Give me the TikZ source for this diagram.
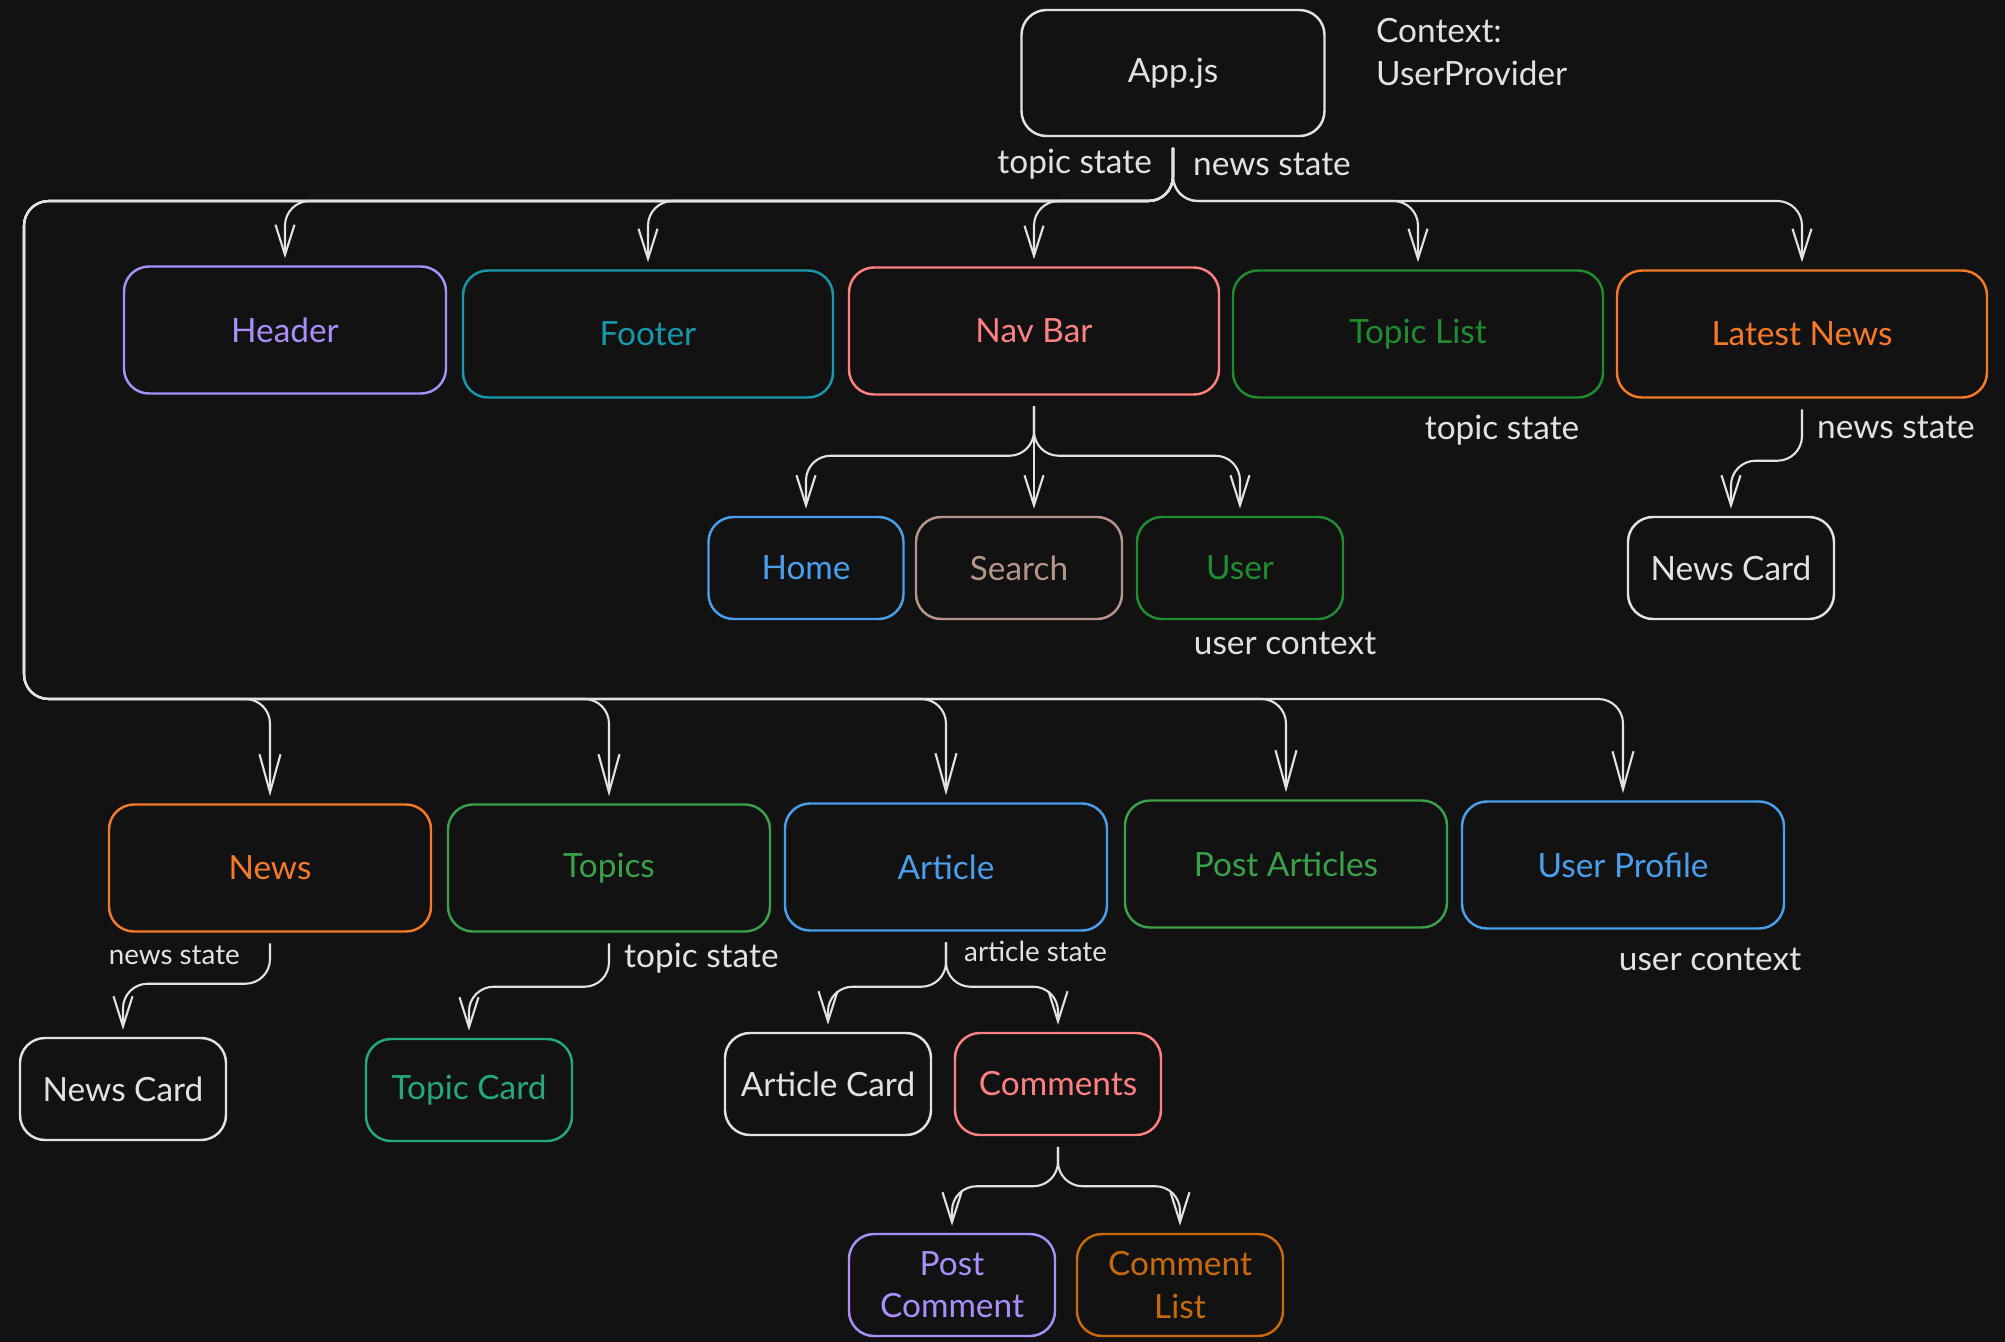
\documentclass[tikz,border=0pt]{standalone}
\usepackage{fontspec}
\setmainfont{Lato}
\usetikzlibrary{calc}
\usetikzlibrary{positioning}
\usetikzlibrary{arrows.meta}
\definecolor{bg}{RGB}{18,18,18}
\definecolor{ink}{RGB}{226,226,226}
\definecolor{lavender}{RGB}{170,142,250}
\definecolor{tealc}{RGB}{22,152,172}
\definecolor{salmon}{RGB}{255,128,128}
\definecolor{grn}{RGB}{32,140,48}
\definecolor{lgrn}{RGB}{58,160,74}
\definecolor{orng}{RGB}{245,122,40}
\definecolor{skyblue}{RGB}{74,158,235}
\definecolor{taupe}{RGB}{182,150,138}
\definecolor{mint}{RGB}{36,168,128}
\definecolor{amber}{RGB}{200,106,10}

\begin{document}
\begin{tikzpicture}[>={Straight Barb[length=3mm,width=1.9mm]},
  every node/.style={font=\fontsize{9.5}{12}\selectfont},
  box/.style={draw=#1, text=#1, line width=0.7pt, rounded corners=0.25cm, align=center,
    minimum width=3.22cm, minimum height=1.27cm, inner sep=2pt},
  small/.style={minimum width=2.06cm, minimum height=1.02cm},
  wide/.style={minimum width=3.70cm},
  wire/.style={draw=ink, line width=0.6pt, rounded corners=7pt, shorten >=2pt, shorten <=3pt},
  lbl/.style={text=ink, inner sep=1pt},
  tiny/.style={font=\fontsize{7.9}{10}\selectfont}]

\fill[bg] (0,0) rectangle (20.05,-13.42);

% top
\node[box=ink, minimum width=3.03cm, minimum height=1.26cm] (app) at (11.73,-0.73) {App.js};
\node[lbl, anchor=west, align=left] (ctx) at (13.72,-0.52) {Context:\\UserProvider};

\node[box=lavender] (hdr) at (2.85,-3.30) {Header};
\node[box=tealc, wide] (ftr) at (6.48,-3.34) {Footer};
\node[box=salmon, wide] (nav) at (10.34,-3.31) {Nav Bar};
\node[box=grn, wide] (tlist) at (14.18,-3.34) {Topic List};
\node[box=orng, wide] (latest) at (18.02,-3.34) {Latest News};

\node[box=skyblue, small, minimum width=1.95cm] (home) at (8.06,-5.68) {Home};
\node[box=taupe, small] (srch) at (10.19,-5.68) {Search};
\node[box=grn, small] (user) at (12.40,-5.68) {User};
\node[box=ink, small] (ncr) at (17.31,-5.68) {News Card};

% pages
\node[box=orng] (news) at (2.70,-8.68) {News};
\node[box=lgrn] (topics) at (6.09,-8.68) {Topics};
\node[box=skyblue] (article) at (9.46,-8.67) {Article};
\node[box=lgrn] (postart) at (12.86,-8.64) {Post Articles};
\node[box=skyblue] (profile) at (16.23,-8.65) {User Profile};

\node[box=ink, small] (ncl) at (1.23,-10.89) {News Card};
\node[box=mint, small] (tcard) at (4.69,-10.90) {Topic Card};
\node[box=ink, small] (acard) at (8.28,-10.84) {Article Card};
\node[box=salmon, small] (comm) at (10.58,-10.84) {Comments};

\node[box=lavender, small] (postc) at (9.52,-12.85) {Post\\Comment};
\node[box=amber, small] (clist) at (11.80,-12.85) {Comment\\List};

% state labels
\node[lbl, anchor=east] (tsapp) at (11.56,-1.64) {topic state};
\node[lbl, anchor=west] (nsapp) at (11.89,-1.64) {news state};
\node[lbl] (tstl) at (15.02,-4.30) {topic state};
\node[lbl, anchor=west] (nslat) at (18.13,-4.27) {news state};
\node[lbl] (ucuser) at (12.85,-6.43) {user context};
\node[lbl] (ucprof) at (17.10,-9.59) {user context};
\node[lbl, tiny, anchor=east] (nsnews) at (2.44,-9.55) {news state};
\node[lbl, anchor=west] (tstop) at (6.20,-9.58) {topic state};
\node[lbl, tiny, anchor=west] (asart) at (9.60,-9.51) {article state};

% connectors
\coordinate (bus) at (11.73,-2.01);
\coordinate (lft) at (0.24,-6.99);
\foreach \t in {hdr,ftr,nav,tlist,latest}
  \draw[wire,->] (app.south) -- (bus) -| (\t.north);
\foreach \t in {news,topics,article,postart,profile}
  \draw[wire,->,>={Straight Barb[length=3.8mm,width=2.1mm]}] (app.south) -- (bus) -| (lft) -| (\t.north);

\coordinate (navbr) at ($(nav.south)+(0,-0.60)$);
\foreach \t in {home,user}
  \draw[wire,->] (nav.south) -- (navbr) -| (\t.north);
\draw[wire,->] (nav.south) -- (navbr) -- (navbr |- srch.north);

\coordinate (latbr) at ($(latest.south)+(0,-0.62)$);
\draw[wire,->] (latest.south) -- (latbr) -| (ncr.north);

\coordinate (newsbr) at ($(news.south)+(0,-0.51)$);
\draw[wire,->] (news.south) -- (newsbr) -| (ncl.north);

\coordinate (topbr) at ($(topics.south)+(0,-0.54)$);
\draw[wire,->] (topics.south) -- (topbr) -| (tcard.north);

\coordinate (artbr) at ($(article.south)+(0,-0.55)$);
\foreach \t in {acard,comm}
  \draw[wire,->] (article.south) -- (artbr) -| (\t.north);

\coordinate (combr) at ($(comm.south)+(0,-0.50)$);
\foreach \t in {postc,clist}
  \draw[wire,->] (comm.south) -- (combr) -| (\t.north);
\end{tikzpicture}
\end{document}
